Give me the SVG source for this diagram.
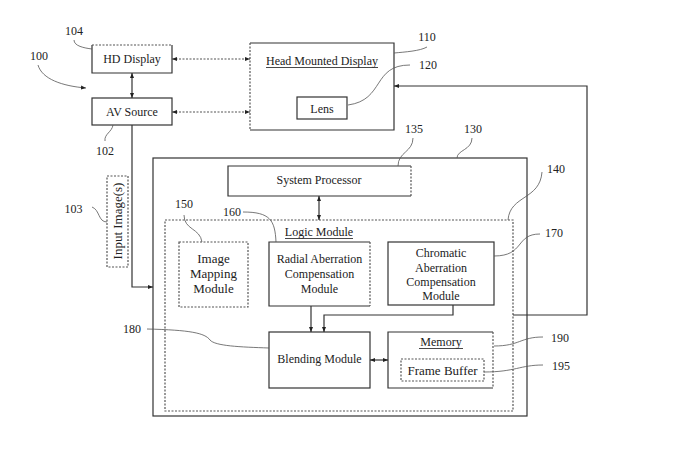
<svg xmlns="http://www.w3.org/2000/svg" width="678" height="468" viewBox="0 0 678 468">
<style>
text{font-family:"Liberation Serif","Times New Roman",serif;fill:#222;}
.t{font-size:12px;text-anchor:middle;}
.t13{font-size:13px;text-anchor:middle;}
.lbl{font-size:12px;text-anchor:middle;}
.box{fill:#fff;stroke:#333;stroke-width:1.2;}
.bg{fill:#fff;stroke:none;}
.sol{fill:none;stroke:#333;stroke-width:1.2;}
.dsh{fill:none;stroke:#555;stroke-width:1.2;stroke-dasharray:2,1.5;}
.dbox{fill:#fff;stroke:#555;stroke-width:1.2;stroke-dasharray:2,1.5;}
.con{fill:none;stroke:#333;stroke-width:1.2;}
.dcon{fill:none;stroke:#555;stroke-width:1.2;stroke-dasharray:2,1.5;}
.lead{fill:none;stroke:#555;stroke-width:0.8;}
.ul{stroke:#333;stroke-width:0.9;}
</style>
<defs>
<marker id="ah" viewBox="0 0 10 10" refX="10" refY="5" markerWidth="5" markerHeight="5" orient="auto-start-reverse" markerUnits="userSpaceOnUse">
<path d="M0,1 L10,5 L0,9 Z" fill="#222"/>
</marker>
</defs>
<rect width="678" height="468" fill="#fff"/>

<g id="box130"><rect class="box" x="153" y="158" width="374" height="258"/></g>

<g id="hd-display">
<rect class="bg" x="92" y="45" width="80" height="28"/>
<path class="sol" d="M92,45 V73 H172 V45"/>
<path class="dsh" d="M92,45 H172"/>
<text class="t" x="132" y="63">HD Display</text>
</g>
<g id="av-source">
<rect class="box" x="92" y="98" width="80" height="27"/>
<text class="t" x="132" y="116">AV Source</text>
</g>
<g id="hmd">
<rect class="bg" x="250" y="43" width="144" height="87"/>
<path class="sol" d="M250,43 H394 V130 H250"/>
<path class="dsh" d="M250,43 V130"/>
<text class="t" x="322" y="65">Head Mounted Display</text>
<line class="ul" x1="266" y1="67.5" x2="378" y2="67.5"/>
</g>
<g id="lens">
<rect class="box" x="297" y="97" width="50" height="22"/>
<text class="t" x="322" y="113">Lens</text>
</g>
<g id="input-images">
<rect class="dbox" x="107" y="176" width="21" height="91"/>
<text class="t13" transform="translate(122,221) rotate(-90)">Input Image(s)</text>
</g>
<g id="system-processor">
<rect class="bg" x="228" y="166" width="183" height="30"/>
<path class="sol" d="M411,166 H228 V196 H411"/>
<path class="dsh" d="M411,166 V196"/>
<text class="t" x="319" y="184">System Processor</text>
</g>
<g id="logic-module">
<rect class="dbox" x="165" y="220" width="348" height="191"/>
<text class="t" x="319" y="236">Logic Module</text>
<line class="ul" x1="285" y1="238.5" x2="353" y2="238.5"/>
</g>
<g id="image-mapping">
<rect class="dbox" x="179" y="242" width="69" height="65"/>
<text class="t13" x="213.5" y="263">Image</text>
<text class="t13" x="213.5" y="278">Mapping</text>
<text class="t13" x="213.5" y="293">Module</text>
</g>
<g id="radial">
<rect class="bg" x="269" y="242" width="101" height="64"/>
<path class="sol" d="M370,242 H269 V306 H370"/>
<path class="dsh" d="M370,242 V306"/>
<text class="t" x="319.5" y="263">Radial Aberration</text>
<text class="t" x="319.5" y="278">Compensation</text>
<text class="t" x="319.5" y="292.5">Module</text>
</g>
<g id="chromatic">
<rect class="box" x="388" y="242" width="106" height="63"/>
<text class="t" x="441" y="257">Chromatic</text>
<text class="t" x="441" y="271.5">Aberration</text>
<text class="t" x="441" y="286">Compensation</text>
<text class="t" x="441" y="300">Module</text>
</g>
<g id="blending">
<rect class="box" x="269" y="332" width="101" height="56"/>
<text class="t" x="319.5" y="363">Blending Module</text>
</g>
<g id="memory">
<rect class="bg" x="388" y="332" width="105" height="56"/>
<path class="sol" d="M493,332 H388 V388 H493"/>
<path class="dsh" d="M493,332 V388"/>
<text class="t" x="441" y="346">Memory</text>
<line class="ul" x1="419" y1="348.5" x2="463" y2="348.5"/>
</g>
<g id="frame-buffer">
<rect class="dbox" x="401" y="359" width="83" height="22"/>
<text class="t13" x="442.5" y="375">Frame Buffer</text>
</g>

<g id="connectors">
<line class="con" x1="132" y1="73" x2="132" y2="98" marker-start="url(#ah)" marker-end="url(#ah)"/>
<line class="dcon" x1="172" y1="59" x2="250" y2="59" marker-start="url(#ah)" marker-end="url(#ah)"/>
<line class="dcon" x1="172" y1="112" x2="250" y2="112" marker-start="url(#ah)" marker-end="url(#ah)"/>
<polyline class="con" points="132,125 132,287 153,287" marker-end="url(#ah)"/>
<line class="con" x1="319" y1="196" x2="319" y2="220" marker-start="url(#ah)" marker-end="url(#ah)"/>
<line class="con" x1="311" y1="306" x2="311" y2="332" marker-end="url(#ah)"/>
<polyline class="con" points="453,305 453,315 324,315 324,332" marker-end="url(#ah)"/>
<line class="con" x1="370" y1="360" x2="388" y2="360" marker-start="url(#ah)" marker-end="url(#ah)"/>
<polyline class="con" points="513,315 587,315 587,86 394,86" marker-end="url(#ah)"/>
</g>

<g id="leaders">
<path class="lead" d="M38,65 C42,79 62,86 86,88" marker-end="url(#ah)"/>
<path class="lead" d="M74,40 C74,46 84,48 92,49"/>
<path class="lead" d="M113,125 C112,132 104,134 105,141"/>
<path class="lead" d="M394,53 C405,52 420,51 427,47"/>
<path class="lead" d="M348,105 C385,100 372,65 410,65"/>
<path class="lead" d="M413,138 C413,152 398,152 398,166"/>
<path class="lead" d="M472,138 C472,150 457,150 457,158"/>
<path class="lead" d="M542,172 C540,200 510,195 508,220"/>
<path class="lead" d="M540,234 C515,234 525,256 494,256"/>
<path class="lead" d="M543,337 C520,337 520,346 494,346"/>
<path class="lead" d="M543,365 C520,365 515,372 484,372"/>
<path class="lead" d="M147,329 C190,330 205,333 210,340 C215,346 240,347 269,348"/>
<path class="lead" d="M184,215 C184,230 200,228 202,242"/>
<path class="lead" d="M243,212 C270,212 275,220 276,242"/>
<path class="lead" d="M92,207 C100,210 98,222 107,222"/>
</g>

<g id="labels">
<text class="lbl" x="39" y="60">100</text>
<text class="lbl" x="74" y="35">104</text>
<text class="lbl" x="105" y="155">102</text>
<text class="lbl" x="73.5" y="213">103</text>
<text class="lbl" x="427" y="41">110</text>
<text class="lbl" x="428" y="69">120</text>
<text class="lbl" x="414" y="133">135</text>
<text class="lbl" x="473" y="133">130</text>
<text class="lbl" x="556" y="173">140</text>
<text class="lbl" x="554" y="237">170</text>
<text class="lbl" x="560" y="342">190</text>
<text class="lbl" x="561" y="370">195</text>
<text class="lbl" x="132" y="333">180</text>
<text class="lbl" x="184" y="208">150</text>
<text class="lbl" x="232" y="216">160</text>
</g>
</svg>
